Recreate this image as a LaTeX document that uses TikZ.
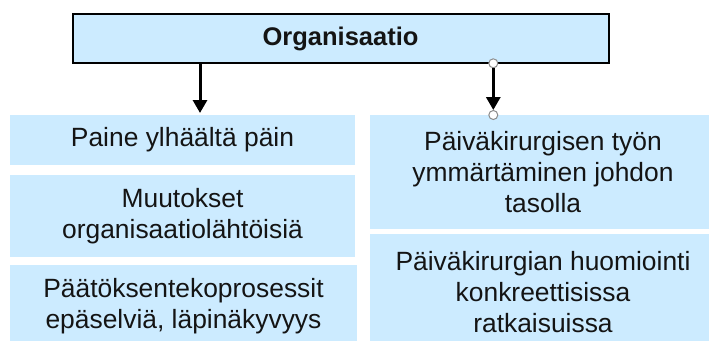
\documentclass[tikz,border=0pt]{standalone}
\usepackage{fontspec}
\setmainfont{Liberation Sans}
\usetikzlibrary{arrows.meta}
\definecolor{boxfill}{RGB}{204,235,255}
\definecolor{txt}{RGB}{20,20,20}
\definecolor{handlegray}{RGB}{140,140,140}
\tikzset{
  item/.style={fill=boxfill, draw=none, inner sep=0pt, align=center, text=txt,
    font=\fontsize{26.4}{31}\selectfont},
  topbox/.style={fill=boxfill, draw=black, line width=2pt, inner sep=0pt,
    minimum width=536pt, minimum height=49pt, text=txt,
    font=\fontsize{25.5}{30}\selectfont\bfseries},
  link/.style={draw=black, line width=3pt,
    -{Triangle[width=14pt,length=13pt]}},
  handle/.style={circle, draw=handlegray, fill=white, line width=1pt,
    minimum size=9pt, inner sep=0pt}
}
\begin{document}
\begin{tikzpicture}[x=1pt, y=-1pt]
  \useasboundingbox (0,0) rectangle (709,340);
  \begin{scope}
    \clip (0,0) rectangle (709,340);
    % head box
    \node[topbox] (org) at (340.5,38.8) {Organisaatio};
    % left column
    \node[item, minimum width=345pt, minimum height=50pt] (l1) at (182.5,140) {Paine ylhäältä päin};
    \node[item, minimum width=345pt, minimum height=82pt] (l2) at (182.5,216) {Muutokset\\organisaatiolähtöisiä};
    \node[item, minimum width=347pt, minimum height=82pt] (l3) at (183.5,306) {Päätöksentekoprosessit\\epäselviä, läpinäkyvyys};
    % right column
    \node[item, minimum width=346pt, minimum height=114pt] (r1) at (543,172) {Päiväkirurgisen työn\\ymmärtäminen johdon\\tasolla};
    \node[item, minimum width=346pt, minimum height=116pt] (r2) at (543,292) {Päiväkirurgian huomiointi\\konkreettisissa\\ratkaisuissa};
    % connectors
    \coordinate (t1) at (200,113);
    \draw[link] (t1 |- org.south) -- (t1);
    \node[handle] (h1) at (493.3,63.3) {};
    \node[handle] (h2) at (493.3,115) {};
    \draw[link] (h1) -- (h2);
  \end{scope}
\end{tikzpicture}
\end{document}
